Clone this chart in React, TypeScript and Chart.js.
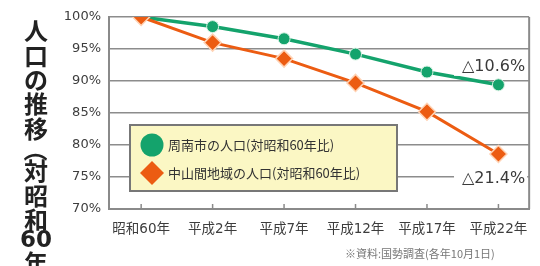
import React, { useEffect, useRef } from 'react';
import { Chart, registerables } from 'chart.js';

Chart.register(...registerables);

const categories = ['昭和60年', '平成2年', '平成7年', '平成12年', '平成17年', '平成22年'];
const shunanValues = [100, 98.5, 96.6, 94.2, 91.4, 89.4];
const chusankanValues = [100, 96.0, 93.5, 89.7, 85.2, 78.6];
const seriesLabels = ['周南市の人口(対昭和60年比)', '中山間地域の人口(対昭和60年比)'];
const yMin = 70;
const yMax = 100;
const yStep = 5;
const titleChars = ['人', '口', 'の', '推', '移', '（', '対', '昭', '和', '60', '年'];
const sourceNote = '※資料:国勢調査(各年10月1日)';

const GREEN = '#14a36c';
const ORANGE = '#ec5c12';
const CJK = "'Noto Sans CJK JP', sans-serif";
const MIX = "'DejaVu Sans', 'Noto Sans CJK JP', sans-serif";

const decoPlugin = {
  id: 'deco',
  afterDraw(chart: any) {
    const ctx = chart.ctx as CanvasRenderingContext2D;
    const area = chart.chartArea;
    const xs = chart.scales.x;
    const ys = chart.scales.y;
    ctx.save();

    // right border
    ctx.strokeStyle = '#8a8a8a';
    ctx.lineWidth = 2;
    ctx.beginPath();
    ctx.moveTo(area.right, area.top);
    ctx.lineTo(area.right, area.bottom);
    ctx.stroke();

    // inside tick marks on x axis
    ctx.lineWidth = 1.5;
    categories.forEach((_, i) => {
      const px = xs.getPixelForValue(i);
      ctx.beginPath();
      ctx.moveTo(px, area.bottom - 5);
      ctx.lineTo(px, area.bottom);
      ctx.stroke();
    });

    // annotations
    const ds = chart.data.datasets;
    const lastIdx = categories.length - 1;
    const labelFont = "16px 'DejaVu Sans', 'Noto Sans CJK JP', sans-serif";
    ctx.font = labelFont;
    ctx.textAlign = 'right';
    ctx.textBaseline = 'middle';
    const rightX = area.right - 4;
    const g = shunanValues[lastIdx];
    const o = chusankanValues[lastIdx];
    const gText = '△' + (100 - g).toFixed(1) + '%';
    const oText = '△' + (100 - o).toFixed(1) + '%';
    const gY = ys.getPixelForValue(g) - 18;
    const oY = ys.getPixelForValue(o) + 25;
    [[gText, gY], [oText, oY]].forEach(([t, y]: any) => {
      const w = ctx.measureText(t).width;
      ctx.fillStyle = '#ffffff';
      ctx.fillRect(rightX - w - 8, y - 9, w + 10, 18);
      ctx.fillStyle = '#3a3a3a';
      ctx.fillText(t, rightX, y);
    });

    // legend box
    const lx = 130, ly = 125, lw = 267, lh = 66;
    ctx.fillStyle = '#fbf7c4';
    ctx.fillRect(lx, ly, lw, lh);
    ctx.strokeStyle = '#777777';
    ctx.lineWidth = 2;
    ctx.strokeRect(lx, ly, lw, lh);
    // green circle
    ctx.fillStyle = ds[0].borderColor;
    ctx.beginPath();
    ctx.arc(152, 145, 11.5, 0, Math.PI * 2);
    ctx.fill();
    // orange diamond
    ctx.fillStyle = ds[1].borderColor;
    ctx.beginPath();
    ctx.moveTo(152, 161);
    ctx.lineTo(164, 173);
    ctx.lineTo(152, 185);
    ctx.lineTo(140, 173);
    ctx.closePath();
    ctx.fill();
    ctx.font = "13px " + CJK;
    ctx.fillStyle = '#333333';
    ctx.textAlign = 'left';
    ctx.textBaseline = 'middle';
    ctx.fillText(ds[0].label, 168, 145);
    ctx.fillText(ds[1].label, 168, 173);

    // footnote
    ctx.font = "11px " + CJK;
    ctx.fillStyle = '#777777';
    ctx.textAlign = 'left';
    ctx.fillText(sourceNote, 345, 254);

    // vertical title
    ctx.fillStyle = '#222222';
    ctx.textAlign = 'center';
    ctx.textBaseline = 'middle';
    const cx = 36;
    let y = 31;
    let prevHalf = 0;
    titleChars.forEach((c) => {
      let half = 12.2;
      if (c === '（') half = 9;
      else if (/^\d+$/.test(c)) half = 9.5;
      y += prevHalf + half;
      if (prevHalf === 0) y = 31;
      prevHalf = half;
      if (c === '（') {
        ctx.save();
        ctx.translate(cx, y);
        ctx.rotate(Math.PI / 2);
        ctx.font = "bold 24px " + CJK;
        ctx.fillText(c, 0, 0);
        ctx.restore();
      } else if (/^\d+$/.test(c)) {
        ctx.font = "bold 23px 'DejaVu Sans', sans-serif";
        ctx.fillText(c, cx, y);
      } else {
        ctx.font = "bold 24px " + CJK;
        ctx.fillText(c, cx, y);
      }
    });

    ctx.restore();
  },
};

export default function App() {
  const ref = useRef<HTMLCanvasElement>(null);

  useEffect(() => {
    if (!ref.current) return;
    const chart = new Chart(ref.current, {
      type: 'line',
      data: {
        datasets: [
          {
            label: seriesLabels[0],
            data: shunanValues.map((v, i) => ({ x: i, y: v })),
            borderColor: GREEN,
            backgroundColor: GREEN,
            borderWidth: 3.5,
            pointStyle: 'circle',
            pointRadius: 6,
            pointBackgroundColor: GREEN,
            pointBorderColor: '#d9f2e4',
            pointBorderWidth: 1,
            order: 2,
          },
          {
            label: seriesLabels[1],
            data: chusankanValues.map((v, i) => ({ x: i, y: v })),
            borderColor: ORANGE,
            backgroundColor: ORANGE,
            borderWidth: 3,
            pointStyle: 'rectRot',
            pointRadius: 8.5,
            pointBackgroundColor: ORANGE,
            pointBorderColor: '#ffd3b5',
            pointBorderWidth: 1.5,
            order: 1,
          },
        ],
      },
      options: {
        animation: false,
        responsive: false,
        devicePixelRatio: 1,
        layout: { padding: { top: 17, right: 7, bottom: 0, left: 0 } },
        plugins: {
          legend: { display: false },
          tooltip: { enabled: false },
        },
        scales: {
          x: {
            type: 'linear',
            min: -0.45,
            max: 5.43,
            afterFit: (s: any) => {
              s.height = 57;
            },
            grid: { display: true, drawOnChartArea: false, drawTicks: false },
            border: { display: true, color: '#8a8a8a', width: 2 },
            ticks: {
              stepSize: 1,
              includeBounds: false,
              autoSkip: false,
              maxRotation: 0,
              padding: 12,
              color: '#3d3d3d',
              font: { family: MIX, size: 13.5 },
              callback: (v: any) => (Number.isInteger(v) ? categories[v] : null),
            },
          },
          y: {
            min: yMin,
            max: yMax,
            afterFit: (s: any) => {
              s.width = 109;
            },
            grid: { color: '#8c8c8c', lineWidth: 1.5, drawTicks: false },
            border: { display: true, color: '#8a8a8a', width: 2 },
            ticks: {
              stepSize: yStep,
              padding: 8,
              color: '#3d3d3d',
              font: { family: MIX, size: 13 },
              callback: (v: any) => v + '%',
            },
          },
        },
      },
      plugins: [decoPlugin],
    } as any);
    return () => chart.destroy();
  }, []);

  return (
    <div style={{ position: 'absolute', left: 0, top: 0, width: 540, height: 266, background: '#fff' }}>
      <canvas ref={ref} width={540} height={266} style={{ display: 'block', width: 540, height: 266 }} />
    </div>
  );
}
